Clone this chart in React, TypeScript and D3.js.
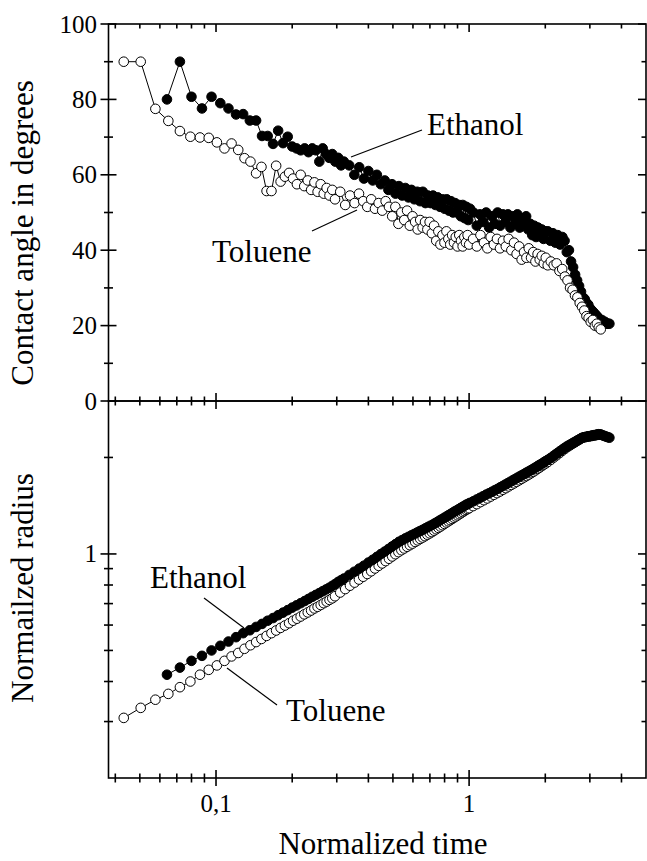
import React from 'react';
import * as d3 from 'd3';

// ---------------- data ----------------
const tolueneTime = [
  0.0432, 0.0504, 0.0576, 0.0648, 0.072, 0.0792, 0.0864, 0.0936, 0.1008, 0.108, 0.1152, 0.1224, 0.1296, 0.1368, 0.144, 0.1512, 0.1584, 0.1656, 0.1728, 0.18,
  0.1872, 0.1944, 0.2016, 0.2088, 0.216, 0.2232, 0.2304, 0.2376, 0.2448, 0.252, 0.2592, 0.2664, 0.2736, 0.2808, 0.288,
  0.2952, 0.3096, 0.324, 0.3384, 0.3528, 0.3672, 0.3816, 0.396, 0.4104, 0.4248, 0.4392, 0.4536, 0.468, 0.4824, 0.4968, 0.5112, 0.5256, 0.54, 0.5544, 0.5688,
  0.5832, 0.5976, 0.612, 0.6264, 0.6408, 0.6552, 0.6696, 0.684, 0.6984, 0.7128, 0.7272, 0.7416, 0.756, 0.7704, 0.7848, 0.7992, 0.8136, 0.828, 0.8424, 0.8568,
  0.8712, 0.8856, 0.9, 0.9144, 0.9288, 0.9432, 0.9576, 0.972, 0.9864, 1.0008,
  1.0368, 1.0728, 1.1088, 1.1448, 1.1808, 1.2168, 1.2528, 1.2888, 1.3248, 1.3608, 1.3968, 1.4328, 1.4688, 1.5048, 1.5408, 1.5768, 1.6128, 1.6488, 1.6848, 1.7208,
  1.7568, 1.7928, 1.8288, 1.8648, 1.9008, 1.9368, 1.9728, 2.0088, 2.0448,
  2.1024, 2.16, 2.2176, 2.2752, 2.3328, 2.3904, 2.448, 2.5056, 2.5632, 2.6208, 2.6784, 2.736, 2.7936, 2.8512, 2.9088, 2.9664, 3.024, 3.0816, 3.1392, 3.1968, 3.2544, 3.312,
];
const tolueneAngle = [
  90.0, 90.0, 77.5, 74.3, 71.6, 70.1, 69.9, 69.8, 68.6, 67.0, 68.3, 66.6, 64.4, 63.5, 60.4, 62.1, 55.7, 55.7, 62.4, 58.2,
  59.5, 60.5, 59.0, 57.5, 60.0, 57.0, 58.5, 56.0, 58.0, 55.5, 57.5, 55.0, 56.5, 54.5, 56.0,
  53.5, 55.5, 52.0, 54.5, 52.5, 55.0, 53.0, 51.5, 53.5, 51.0, 52.5, 50.5, 53.0, 51.5, 49.0,
  51.5, 47.0, 50.0, 48.0, 50.5, 46.5, 49.0, 47.5, 45.5, 48.0, 46.0, 47.5,
  45.5, 47.5, 44.5, 46.5, 42.5, 45.0, 41.5, 44.0, 42.0, 45.0, 43.0,
  41.5, 44.0, 42.0, 43.5, 41.0, 44.0, 42.5, 41.0, 43.5, 42.0, 44.0, 41.5,
  43.0, 41.0, 44.0, 42.0, 40.5, 43.5, 41.5, 43.0, 40.5, 42.5, 41.0, 43.0, 40.0, 42.0,
  39.0, 41.0, 37.5, 39.5, 38.0, 40.5, 38.0, 39.5, 37.0, 39.0, 37.5, 38.5, 36.5, 38.0, 36.0,
  37.0, 36.0, 36.5, 34.5, 35.0, 33.0, 32.0, 30.0, 29.5, 28.0, 27.5, 26.0, 25.0, 24.0, 22.5, 22.0, 21.0, 21.5, 20.0, 20.5, 19.5, 19.0,
];
const tolueneRadius = [
  0.308, 0.331, 0.351, 0.366, 0.384, 0.400, 0.420, 0.435, 0.449, 0.464, 0.479, 0.491, 0.506, 0.519, 0.531, 0.543, 0.555, 0.566, 0.577, 0.588,
  0.598, 0.608, 0.619, 0.628, 0.638, 0.648, 0.657, 0.666, 0.676, 0.684, 0.693, 0.702, 0.710, 0.719, 0.727,
  0.738, 0.758, 0.777, 0.796, 0.814, 0.832, 0.849, 0.866, 0.883, 0.901, 0.918, 0.934, 0.950, 0.966, 0.982, 0.998, 1.013, 1.027, 1.040, 1.053,
  1.065, 1.077, 1.090, 1.102, 1.114, 1.125, 1.136, 1.148, 1.159, 1.170, 1.182, 1.194, 1.206, 1.217, 1.229, 1.241, 1.253, 1.264, 1.275, 1.286,
  1.297, 1.308, 1.319, 1.330, 1.340, 1.351, 1.361, 1.372, 1.381, 1.389,
  1.410, 1.430, 1.451, 1.471, 1.490, 1.510, 1.529, 1.548, 1.566, 1.586, 1.604, 1.624, 1.642, 1.660, 1.679, 1.697, 1.715, 1.733, 1.750, 1.768,
  1.786, 1.804, 1.823, 1.843, 1.861, 1.880, 1.899, 1.917, 1.936,
  1.966, 2.000, 2.032, 2.064, 2.097, 2.127, 2.156, 2.181, 2.206, 2.230, 2.254, 2.278, 2.301, 2.311, 2.318, 2.325, 2.331, 2.336, 2.343, 2.350, 2.355, 2.357,
];

const ethanolTime = [
  0.064, 0.072, 0.08, 0.088, 0.096, 0.104, 0.112, 0.12, 0.128, 0.136, 0.144, 0.152, 0.16, 0.168, 0.176, 0.184, 0.192,
  0.2, 0.208, 0.216, 0.224, 0.232, 0.24, 0.248, 0.256, 0.264, 0.272, 0.28, 0.288, 0.296, 0.304, 0.312, 0.32,
  0.336, 0.352, 0.368, 0.384, 0.4, 0.416, 0.432, 0.448, 0.464, 0.48, 0.496, 0.512, 0.528, 0.544, 0.56, 0.576, 0.592, 0.608, 0.624, 0.64,
  0.656, 0.672, 0.688, 0.704, 0.72, 0.736, 0.752, 0.768, 0.784, 0.8, 0.816, 0.832, 0.848, 0.864, 0.88, 0.896, 0.912, 0.928, 0.944, 0.96,
  0.976, 0.992, 1.008,
  1.04, 1.072, 1.104, 1.136, 1.168, 1.2, 1.232, 1.264, 1.296, 1.328, 1.36, 1.392, 1.424, 1.456, 1.488, 1.52, 1.552, 1.584, 1.616, 1.648,
  1.68, 1.712, 1.744, 1.776, 1.808, 1.84, 1.872, 1.904, 1.936, 1.968, 2.0,
  2.048, 2.096, 2.144, 2.192, 2.24, 2.288, 2.336, 2.384, 2.432, 2.48, 2.528, 2.576, 2.624, 2.672, 2.72, 2.768, 2.816, 2.864, 2.912, 2.96,
  3.008, 3.056, 3.104, 3.152, 3.2, 3.248, 3.296, 3.344, 3.392, 3.44, 3.488, 3.536, 3.584,
];
const ethanolAngle = [
  80.0, 90.0, 80.7, 77.6, 80.7, 79.0, 77.6, 76.0, 76.1, 74.4, 74.4, 70.3, 70.3, 68.2, 71.7, 68.4, 70.1,
  67.5, 67.0, 66.5, 67.0, 66.0, 67.0, 66.5, 63.5, 67.0, 65.5, 64.5, 65.5, 63.5, 64.5, 62.5, 63.5,
  62.5, 60.0, 62.0, 59.0, 61.0, 58.5, 60.0, 57.5, 58.5, 56.0, 57.5, 55.0, 57.0, 54.5, 56.5, 54.0, 56.0, 53.5, 55.5, 53.0,
  55.5, 52.5, 54.5, 52.5, 54.5, 52.0, 54.0, 51.5, 53.5, 51.0, 53.5, 50.5, 53.0, 50.0, 52.5, 50.0, 52.0, 49.0, 52.0, 48.5,
  51.5, 48.0, 51.0,
  50.0, 46.5, 49.5, 47.5, 50.0, 46.0, 49.0, 47.0, 50.0, 46.5, 49.5, 47.5, 49.5, 46.0, 49.0, 47.0, 49.5, 46.0, 48.5, 47.0,
  49.0, 45.5, 47.0, 44.0, 46.5, 43.5, 46.0, 44.0, 45.5, 43.0, 45.0,
  45.0, 42.5, 44.5, 42.0, 44.0, 41.5, 43.5, 42.5, 39.5, 40.0, 37.0, 35.5, 33.5, 32.0, 30.5, 29.0, 27.5, 27.0, 26.0, 25.5,
  24.5, 24.0, 23.5, 23.0, 22.5, 22.0, 21.5, 21.5, 21.0, 21.0, 20.5, 20.5, 20.5,
];
const ethanolRadius = [
  0.420, 0.442, 0.464, 0.481, 0.500, 0.517, 0.533, 0.550, 0.566, 0.578, 0.592, 0.605, 0.619, 0.631, 0.644, 0.656, 0.668,
  0.680, 0.691, 0.702, 0.713, 0.724, 0.735, 0.745, 0.755, 0.765, 0.775, 0.784, 0.795, 0.806, 0.818, 0.828, 0.838,
  0.860, 0.880, 0.900, 0.919, 0.940, 0.959, 0.979, 0.999, 1.017, 1.036, 1.055, 1.073, 1.091, 1.105, 1.118, 1.131, 1.143, 1.155, 1.167, 1.179,
  1.190, 1.202, 1.214, 1.225, 1.236, 1.249, 1.261, 1.274, 1.286, 1.298, 1.310, 1.323, 1.334, 1.347, 1.359, 1.369, 1.381, 1.392, 1.403, 1.414,
  1.425, 1.433, 1.443,
  1.460, 1.479, 1.496, 1.514, 1.531, 1.547, 1.563, 1.580, 1.596, 1.614, 1.630, 1.647, 1.664, 1.680, 1.697, 1.713, 1.729, 1.745, 1.760, 1.775,
  1.791, 1.805, 1.820, 1.835, 1.851, 1.866, 1.883, 1.897, 1.912, 1.928, 1.945,
  1.967, 1.990, 2.016, 2.042, 2.067, 2.093, 2.116, 2.141, 2.164, 2.183, 2.202, 2.221, 2.238, 2.258, 2.275, 2.293, 2.308, 2.315, 2.321, 2.328,
  2.333, 2.340, 2.346, 2.351, 2.357, 2.363, 2.358, 2.350, 2.340, 2.331, 2.321, 2.313, 2.305,
];

// ticks
const timeDomain = [0.0376, 5];
const timeMajorTicks = [0.1, 1];
const timeTickLabels = ['0,1', '1'];
const timeMinorTicks = [0.04, 0.05, 0.06, 0.07, 0.08, 0.09, 0.2, 0.3, 0.4, 0.5, 0.6, 0.7, 0.8, 0.9, 2, 3, 4];
const angleDomain = [0, 100];
const angleMajorTicks = [0, 20, 40, 60, 80, 100];
const angleMinorTicks = [10, 30, 50, 70, 90];
const radiusDomain = [0.2, 3];
const radiusMajorTicks = [1];
const radiusTickLabels = ['1'];
const radiusMinorTicks = [0.3, 0.4, 0.5, 0.6, 0.7, 0.8, 0.9, 2];

// ---------------- layout ----------------
const W = 647;
const H = 861;
const L = 108.5;
const R = 646;
const T = 24;
const M = 401;
const B = 778;
const MAJ = 8;
const MIN = 4.5;
const FONT = "'Liberation Serif', 'Times New Roman', serif";
const AX = 1.6;

export default function App() {
  const x = d3.scaleLog().domain(timeDomain).range([L, R]);
  const yA = d3.scaleLinear().domain(angleDomain).range([M, T]);
  const yR = d3.scaleLog().domain(radiusDomain).range([B, M]);

  const tol = tolueneTime.map((t, i) => ({ t, a: tolueneAngle[i], r: tolueneRadius[i] }));
  const eth = ethanolTime.map((t, i) => ({ t, a: ethanolAngle[i], r: ethanolRadius[i] }));

  const lineA = d3.line<any>().x((d) => x(d.t)).y((d) => yA(d.a));
  const lineR = d3.line<any>().x((d) => x(d.t)).y((d) => yR(d.r));

  const ticks: JSX.Element[] = [];
  let k = 0;
  const seg = (x1: number, y1: number, x2: number, y2: number) =>
    ticks.push(<line key={'t' + k++} x1={x1} y1={y1} x2={x2} y2={y2} stroke="#000" strokeWidth={AX} />);

  // x ticks
  const xt = (v: number, len: number) => {
    const px = x(v);
    seg(px, T, px, T + len); // top inward
    seg(px, M - len, px, M + len); // middle crossing
    seg(px, B - len, px, B + len); // bottom crossing
  };
  timeMajorTicks.forEach((v) => xt(v, MAJ));
  timeMinorTicks.forEach((v) => xt(v, MIN));

  // angle ticks
  const at = (v: number, len: number) => {
    const py = yA(v);
    seg(L - len, py, L + len, py);
    seg(R - len, py, R, py);
  };
  angleMajorTicks.forEach((v) => at(v, MAJ));
  angleMinorTicks.forEach((v) => at(v, MIN));

  // radius ticks
  const rt = (v: number, len: number) => {
    const py = yR(v);
    seg(L - len, py, L + len, py);
    seg(R - len, py, R, py);
  };
  radiusMajorTicks.forEach((v) => rt(v, MAJ));
  radiusMinorTicks.forEach((v) => rt(v, MIN));

  const CR = 4.8;

  return (
    <svg width={W} height={H} viewBox={`0 0 ${W} ${H}`} style={{ position: 'absolute', left: 0, top: 0, background: '#fff' }} fontFamily={FONT}>
      <rect x={0} y={0} width={W} height={H} fill="#fff" />

      {/* top panel data: ethanol then toluene */}
      <path d={lineA(eth) || ''} fill="none" stroke="#000" strokeWidth={1} />
      {eth.map((d, i) => (
        <circle key={'ea' + i} cx={x(d.t)} cy={yA(d.a)} r={CR} fill="#000" stroke="#000" strokeWidth={1} />
      ))}
      <path d={lineA(tol) || ''} fill="none" stroke="#000" strokeWidth={1} />
      {tol.map((d, i) => (
        <circle key={'ta' + i} cx={x(d.t)} cy={yA(d.a)} r={CR} fill="#fff" stroke="#000" strokeWidth={1} />
      ))}

      {/* bottom panel data: toluene then ethanol */}
      <path d={lineR(tol) || ''} fill="none" stroke="#000" strokeWidth={1} />
      {tol.map((d, i) => (
        <circle key={'tr' + i} cx={x(d.t)} cy={yR(d.r)} r={CR} fill="#fff" stroke="#000" strokeWidth={1} />
      ))}
      <path d={lineR(eth) || ''} fill="none" stroke="#000" strokeWidth={1} />
      {eth.map((d, i) => (
        <circle key={'er' + i} cx={x(d.t)} cy={yR(d.r)} r={CR} fill="#000" stroke="#000" strokeWidth={1} />
      ))}

      {/* frames */}
      <rect x={L} y={T} width={R - L} height={M - T} fill="none" stroke="#000" strokeWidth={AX} />
      <rect x={L} y={M} width={R - L} height={B - M} fill="none" stroke="#000" strokeWidth={AX} />
      {ticks}

      {/* tick labels */}
      {angleMajorTicks.map((v) => (
        <text key={'al' + v} x={97} y={yA(v) + 8.5} fontSize={25} textAnchor="end">{v}</text>
      ))}
      {radiusMajorTicks.map((v, i) => (
        <text key={'rl' + v} x={97} y={yR(v) + 8.5} fontSize={25} textAnchor="end">{radiusTickLabels[i]}</text>
      ))}
      {timeMajorTicks.map((v, i) => (
        <text key={'xl' + v} x={x(v)} y={812} fontSize={25} textAnchor="middle">{timeTickLabels[i]}</text>
      ))}

      {/* axis titles */}
      <text x={383} y={854} fontSize={31} textAnchor="middle">Normalized time</text>
      <text transform="translate(33,233) rotate(-90)" fontSize={31} textAnchor="middle">Contact angle in degrees</text>
      <text transform="translate(33,588) rotate(-90)" fontSize={31} textAnchor="middle">Normailzed radius</text>

      {/* annotations */}
      <text x={427} y={135} fontSize={31}>Ethanol</text>
      <line x1={351} y1={157} x2={422} y2={130} stroke="#000" strokeWidth={1.2} />
      <text x={212} y={262} fontSize={31}>Toluene</text>
      <line x1={312} y1={231} x2={357} y2={210} stroke="#000" strokeWidth={1.2} />

      <text x={150} y={588} fontSize={31}>Ethanol</text>
      <line x1={204} y1={598} x2={244} y2={628} stroke="#000" strokeWidth={1.2} />
      <text x={286} y={721} fontSize={31}>Toluene</text>
      <line x1={227} y1={668} x2={277} y2={705} stroke="#000" strokeWidth={1.2} />
    </svg>
  );
}
